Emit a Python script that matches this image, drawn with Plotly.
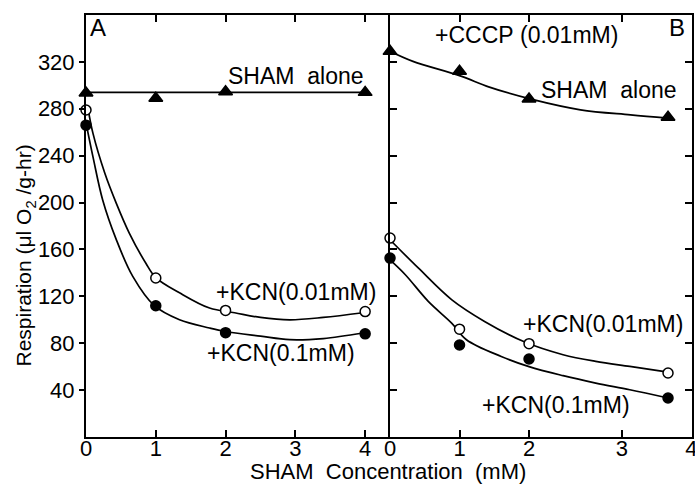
import plotly.graph_objects as go

# ---------------- data ----------------
sham_mM = [0, 1, 2, 4]

# Panel A
A_sham_alone = [293.5, 289, 294.5, 294]
A_kcn_001 = [279, 135.6, 108, 107]
A_kcn_01 = [266, 112, 89, 88]

# Panel B (+CCCP 0.01 mM)
B_sham_alone = [329, 312, 288.4, 272.7]
B_kcn_001 = [169.7, 92, 79.6, 54.6]
B_kcn_01 = [152.6, 78.5, 66.5, 33.3]

# hand-drawn fitted curves
A_fit_sham_x = [0, 4]
A_fit_sham_y = [294, 294]
A_fit_kcn001_x = [0.03, 0.1, 0.27, 0.43, 0.62, 0.86, 1.0, 1.34, 1.77, 2.13, 2.5, 2.92, 3.4, 3.97]
A_fit_kcn001_y = [280, 259, 225, 200, 174, 148, 136, 123, 110, 106, 102, 100, 102, 106]
A_fit_kcn01_x = [0.0, 0.1, 0.24, 0.43, 0.67, 0.98, 1.34, 1.77, 2.0, 2.5, 2.92, 3.4, 3.97]
A_fit_kcn01_y = [268, 239, 202, 169, 137, 112, 100, 93, 90, 86, 83, 84, 88.7]

B_fit_sham_x = [0, 0.33, 1.01, 1.43, 2.03, 2.74, 3.46, 4.0]
B_fit_sham_y = [329, 320.4, 308.1, 298.5, 288.2, 279.1, 274.8, 272]
B_fit_kcn001_x = [0.02, 0.41, 0.89, 1.36, 1.94, 2.49, 2.96, 3.45, 4.0]
B_fit_kcn001_y = [167, 144, 117, 98.6, 81, 70.2, 64.5, 60.2, 55.4]
B_fit_kcn01_x = [0, 0.22, 0.55, 0.89, 1.1, 1.6, 2.0, 2.49, 2.96, 3.45, 4.0]
B_fit_kcn01_y = [151, 138.4, 115.7, 97, 83, 68.7, 60, 52.3, 46, 40.3, 33.3]

y_ticks = [40, 80, 120, 160, 200, 240, 280, 320]
A_x_ticks = [0, 1, 2, 3, 4]
B_x_tickvals = [0, 1, 2, 3.335, 4.336]
B_x_ticktext = ["0", "1", "2", "3", "4"]

# ---------------- figure ----------------
FONT = "Liberation Sans, Arial, sans-serif"
fig = go.Figure()

def fit(x, y, xa, ya):
    fig.add_trace(go.Scatter(x=x, y=y, mode="lines", xaxis=xa, yaxis=ya,
                             line=dict(color="black", width=1.7, shape="spline", smoothing=1),
                             showlegend=False, hoverinfo="skip"))

def pts(y, xa, ya, symbol, fill, size):
    fig.add_trace(go.Scatter(x=sham_mM, y=y, mode="markers", xaxis=xa, yaxis=ya,
                             marker=dict(symbol=symbol, size=size, color=fill,
                                         line=dict(color="black", width=1.5)),
                             cliponaxis=False, showlegend=False))

fit(A_fit_sham_x, A_fit_sham_y, "x", "y")
fit(A_fit_kcn001_x, A_fit_kcn001_y, "x", "y")
fit(A_fit_kcn01_x, A_fit_kcn01_y, "x", "y")
fit(B_fit_sham_x, B_fit_sham_y, "x2", "y2")
fit(B_fit_kcn001_x, B_fit_kcn001_y, "x2", "y2")
fit(B_fit_kcn01_x, B_fit_kcn01_y, "x2", "y2")

pts(A_sham_alone, "x", "y", "triangle-up", "black", 12)
pts(A_kcn_001, "x", "y", "circle", "white", 10)
pts(A_kcn_01, "x", "y", "circle", "black", 10)
pts(B_sham_alone, "x2", "y2", "triangle-up", "black", 12)
pts(B_kcn_001, "x2", "y2", "circle", "white", 10)
pts(B_kcn_01, "x2", "y2", "circle", "black", 10)

axis_common = dict(showgrid=False, zeroline=False, showline=True, linecolor="black",
                   linewidth=2, tickcolor="black", tickwidth=1.5, automargin=False,
                   tickfont=dict(family=FONT, size=22, color="black"))

fig.update_layout(
    width=695, height=484,
    margin=dict(l=86, r=3, t=15, b=47),
    paper_bgcolor="white", plot_bgcolor="white",
    xaxis=dict(domain=[0, 0.4983], range=[0, 4.327], tickvals=A_x_ticks,
               ticks="inside", ticklen=7, mirror="ticks", anchor="y",
               ticklabelstandoff=-9, ticklabeloverflow="allow", **axis_common),
    xaxis2=dict(domain=[0.5017, 1], range=[0, 4.345], tickvals=B_x_tickvals,
                ticktext=B_x_ticktext, ticks="inside", ticklen=7, mirror="ticks",
                anchor="y2", ticklabelstandoff=-9, ticklabeloverflow="allow",
                **axis_common),
    yaxis=dict(range=[0, 360], tickvals=y_ticks, ticks="outside", ticklen=5,
               mirror=True, anchor="x", **axis_common),
    yaxis2=dict(range=[0, 360], tickvals=y_ticks, ticks="inside", ticklen=7,
                mirror="ticks", showticklabels=False, anchor="x2", **axis_common),
)

def label(text, x, y, xa, ya, anchor="left", size=23):
    fig.add_annotation(text=text, x=x, y=y, xref=xa, yref=ya, xanchor=anchor,
                       yanchor="middle", showarrow=False,
                       font=dict(family=FONT, size=size, color="black"))

NB = "\u00a0"
label("A", 0.03, 349, "x", "y", size=24)
label("SHAM" + NB * 2 + "alone", 2.01, 308, "x", "y")
label("+KCN(0.01mM)", 1.84, 124, "x", "y")
label("+KCN(0.1mM)", 1.70, 72, "x", "y")
label("B", 4.27, 349, "x2", "y2", anchor="right", size=24)
label("+CCCP" + NB + "(0.01mM)", 0.62, 343, "x2", "y2")
label("SHAM" + NB * 2 + "alone", 2.15, 295.6, "x2", "y2")
label("+KCN(0.01mM)", 1.89, 96, "x2", "y2")
label("+KCN(0.1mM)", 1.29, 27.5, "x2", "y2")

fig.add_annotation(text="SHAM" + NB * 2 + "Concentration" + NB * 2 + "(mM)",
                   x=(388 - 86) / 606, y=-0.082, xref="paper", yref="paper",
                   xanchor="center", yanchor="middle", showarrow=False,
                   font=dict(family=FONT, size=22, color="black"))
fig.add_annotation(text="Respiration" + NB + "(\u03bcl" + NB + "O<sub>2</sub>" + NB + "/g-hr)",
                   x=(25 - 86) / 606, y=0.43, xref="paper", yref="paper",
                   xanchor="center", yanchor="middle", textangle=-90, showarrow=False,
                   font=dict(family=FONT, size=21, color="black"))

fig.write_html("out.html")
